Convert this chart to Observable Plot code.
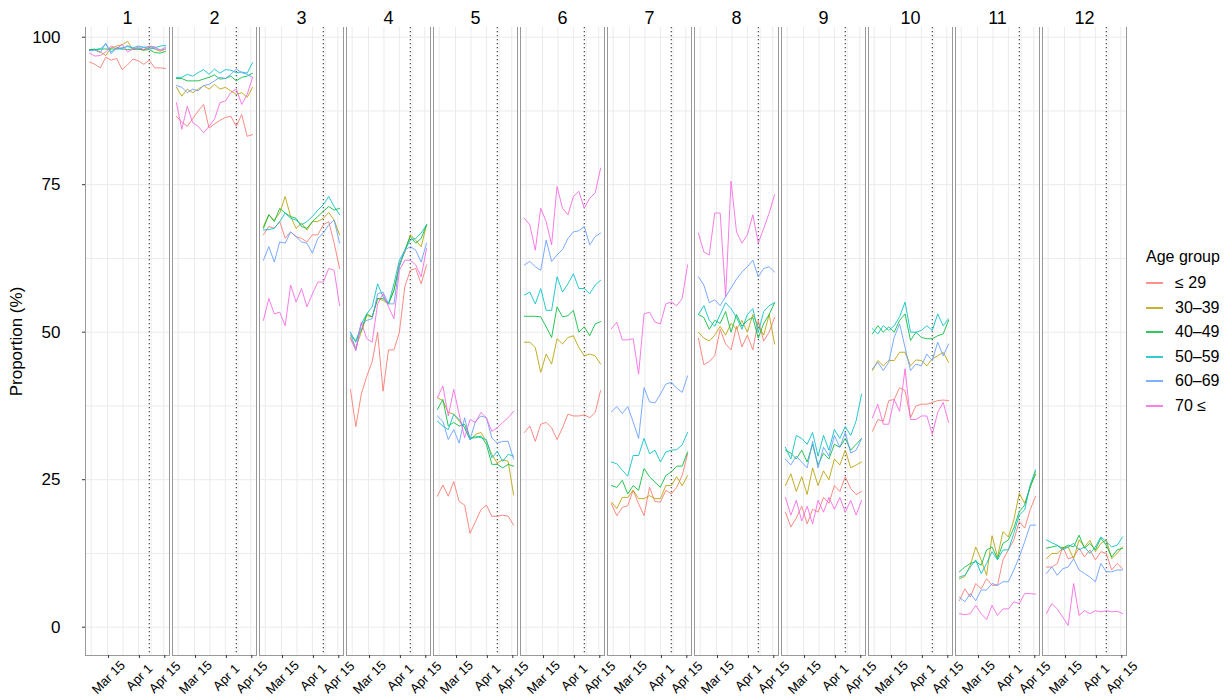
<!DOCTYPE html>
<html><head><meta charset="utf-8">
<script src="https://cdn.jsdelivr.net/npm/d3@7"></script>
<script src="https://cdn.jsdelivr.net/npm/@observablehq/plot@0.6"></script>
<style>
body{margin:0;background:#fff;font-family:"Liberation Sans",Arial,sans-serif;}
#wrap{position:relative;width:1231px;height:697px;overflow:hidden;}
#chart{position:absolute;left:0;top:0;}
#legend{position:absolute;left:1146px;top:248px;font-size:16px;color:#000;}
#legend .title{margin-bottom:5px;}
#legend .item{display:flex;align-items:center;height:24.5px;}
#legend svg{margin-right:12px;}
</style></head><body>
<div id="wrap"><div id="chart"></div><div id="legend"></div></div>
<script>
const dates = ["2020-03-05","2020-03-08","2020-03-11","2020-03-14","2020-03-17","2020-03-20","2020-03-23","2020-03-26","2020-03-29","2020-04-01","2020-04-04","2020-04-07","2020-04-10","2020-04-13","2020-04-16"];
const ageGroups = ["≤ 29","30–39","40–49","50–59","60–69","70 ≤"];
const colors = ["#F8766D","#B79F00","#00BA38","#00BFC4","#619CFF","#F564E3"];
const panelLabels = ["1","2","3","4","5","6","7","8","9","10","11","12"];
const xTickDates = ["2020-03-15","2020-04-01","2020-04-15"];
const xGridDates = ["2020-03-06","2020-03-15","2020-03-23T12:00","2020-04-01","2020-04-08","2020-04-15"];
const emergencyDate = "2020-04-07";
const yTicks = [0,25,50,75,100];
const yGrid = [0,12.5,25,37.5,50,62.5,75,87.5,100];

// each panel: rows in ageGroups order, values in dates order
const panel1 = [
 [95.8,95.4,94.8,96.6,96.1,96.4,94.5,95.3,96.3,96.0,95.4,96.1,94.8,94.8,94.7],
 [97.9,98.0,97.5,96.9,98.2,98.5,98.7,99.3,97.9,98.0,97.8,98.2,98.0,97.6,98.0],
 [97.9,97.9,98.0,98.0,98.0,98.0,98.0,97.9,98.0,98.0,97.8,97.9,97.4,97.3,97.6],
 [97.7,97.9,98.0,98.8,97.5,98.1,98.2,98.4,98.2,98.5,98.3,98.4,98.2,98.5,98.6],
 [97.8,97.8,97.4,99.0,97.2,98.3,98.0,98.6,98.1,98.0,98.3,98.0,98.1,97.8,98.3],
 [97.3,96.8,96.9,97.5,98.5,98.0,98.8,97.5,98.0,98.3,97.9,98.5,98.4,97.8,98.0]];
const panel2 = [
 [86.6,85.6,84.9,86.2,87.5,88.6,84.6,85.3,85.9,86.4,86.6,84.9,86.9,83.2,83.5],
 [91.5,90.0,91.2,90.6,91.2,91.8,91.2,92.0,91.2,91.5,90.9,90.3,90.6,89.8,91.5],
 [93.0,93.0,92.6,92.6,92.6,92.9,93.2,93.6,92.9,93.0,93.4,92.6,93.2,93.4,93.9],
 [93.2,93.2,93.7,93.4,94.0,94.5,93.7,94.6,93.9,94.5,94.4,94.0,94.1,93.9,95.7],
 [91.8,91.5,90.6,91.2,90.9,91.8,92.0,92.6,93.2,93.0,93.7,94.6,94.0,93.7,93.2],
 [88.9,84.4,88.3,85.5,84.9,83.8,84.9,86.1,88.9,89.2,90.6,91.2,88.6,90.3,93.2]];
const panel3 = [
 [66.5,67.9,67.6,68.75,65.9,67.0,66.2,65.9,65.3,66.5,66.5,68.2,68.75,65.1,60.8],
 [67.9,69.9,69.0,70.2,73.0,69.6,67.6,68.5,67.3,68.75,68.75,69.3,70.3,69.0,66.5],
 [67.6,69.9,68.75,71.0,70.2,69.6,69.3,67.9,67.6,68.75,69.6,70.5,71.3,70.7,71.0],
 [67.3,67.4,67.6,68.75,70.2,69.3,69.0,68.2,68.75,69.6,70.7,71.6,73.0,71.3,69.9],
 [62.2,64.5,61.9,65.3,65.1,67.0,66.2,65.3,65.1,63.4,65.9,66.8,68.2,69.0,65.1],
 [52.0,55.7,53.1,53.4,51.1,58.0,55.1,57.4,54.3,56.5,58.5,58.5,60.8,60.5,54.5]];
const panel4 = [
 [40.3,34.0,39.5,42.5,45.0,50.0,40.0,47.0,47.0,50.0,57.7,60.5,60.8,58.2,61.4],
 [49.1,47.4,50.0,52.8,52.6,55.7,55.4,54.8,57.1,61.6,63.6,66.5,65.6,64.5,68.2],
 [49.4,48.6,50.3,53.1,52.6,55.7,55.7,54.8,57.1,61.1,63.9,66.2,65.1,65.9,68.2],
 [50.0,48.3,51.4,53.1,54.3,58.2,56.0,54.8,58.2,62.2,63.9,65.6,65.9,66.8,68.2],
 [50.0,46.9,51.4,52.0,52.3,56.5,56.8,54.8,54.8,61.4,63.9,64.5,63.9,61.9,65.1],
 [48.9,46.9,51.7,48.9,48.3,54.8,56.5,54.3,52.3,60.5,62.2,62.2,61.4,59.4,64.2]];
const panel5 = [
 [22.2,24.1,22.2,24.7,21.3,20.7,15.9,17.9,19.9,20.7,18.8,18.8,19.0,18.8,17.3],
 [38.9,38.4,36.4,36.1,34.9,33.8,31.8,32.7,33.0,31.5,29.3,27.8,28.4,28.1,22.4],
 [36.9,38.6,34.1,34.7,34.1,34.4,32.1,32.1,32.4,31.0,27.6,27.6,27.0,27.6,27.3],
 [34.9,34.1,33.5,36.1,35.2,33.8,31.8,32.4,32.1,31.8,28.7,29.8,28.1,29.3,29.0],
 [35.8,34.9,31.8,33.5,31.2,35.5,31.8,34.9,35.8,35.5,32.1,31.2,31.5,31.5,28.5],
 [38.9,40.9,35.8,40.3,36.1,32.1,35.2,34.7,36.4,35.5,33.2,33.8,34.7,35.5,36.6]];
const panel6 = [
 [33.0,34.1,31.5,34.4,34.7,33.8,31.8,33.8,36.1,35.8,35.8,36.0,35.5,36.4,40.1],
 [48.3,48.3,47.4,43.2,46.3,44.6,48.9,48.0,49.1,49.4,47.4,46.0,46.3,46.0,44.6],
 [52.7,52.7,52.7,52.6,50.9,49.1,54.3,52.6,52.8,53.7,50.0,50.9,49.4,51.4,51.8],
 [56.3,56.8,54.8,57.4,53.7,53.7,59.4,56.8,58.2,59.9,57.4,57.4,56.5,58.0,58.8],
 [61.4,62.0,61.1,60.5,65.6,62.0,63.1,64.0,65.9,67.0,67.2,67.9,64.8,66.2,66.8],
 [69.3,68.2,63.9,71.0,68.75,64.8,74.7,71.0,69.9,73.0,73.9,71.0,72.7,73.6,77.8]];
const panel7 = [
 [20.9,18.9,20.3,20.6,23.2,20.9,18.9,23.7,21.3,21.2,23.2,22.6,23.7,25.7,29.4],
 [21.2,20.1,22.0,22.0,23.2,21.8,21.8,22.3,21.8,21.8,24.0,24.0,25.5,24.0,25.7],
 [24.0,23.7,24.9,22.6,24.0,23.2,26.9,25.5,24.6,23.7,25.7,26.3,27.3,27.3,29.7],
 [28.0,27.7,26.6,25.6,29.1,29.1,32.0,29.4,30.0,28.0,29.7,30.0,30.1,30.9,33.0],
 [36.5,37.4,36.2,37.4,34.8,32.0,40.6,38.2,38.0,39.5,41.2,41.5,40.5,39.8,42.6],
 [50.6,51.7,48.7,48.7,48.9,42.9,53.1,53.4,51.7,51.4,54.8,55.1,54.5,55.7,61.4]];
const panel8 = [
 [49.0,44.5,45.0,46.0,50.5,48.0,47.0,51.0,47.5,49.5,47.0,52.0,48.5,50.0,52.5],
 [50.0,49.0,48.5,49.5,51.0,49.5,51.5,50.5,52.0,50.0,53.0,51.0,49.5,53.0,48.0],
 [53.0,52.5,50.5,52.0,51.5,53.5,50.0,53.0,51.0,52.0,52.5,49.0,51.5,53.0,55.0],
 [53.0,54.5,52.0,51.0,53.0,55.0,54.0,52.5,50.5,53.0,54.0,50.0,53.5,54.5,55.0],
 [59.4,58.0,55.0,55.5,54.5,56.0,57.5,59.0,60.2,61.1,62.2,59.4,60.8,61.1,60.2],
 [66.8,63.6,63.1,70.2,70.2,56.0,75.6,67.0,65.1,66.5,69.9,65.1,67.6,70.2,73.3]];
const panel9 = [
 [19.5,17.0,18.5,20.5,17.5,20.0,19.5,22.0,21.0,24.0,23.0,25.5,23.5,22.5,23.0],
 [24.0,26.0,23.0,25.5,22.5,27.0,24.0,26.5,25.0,28.5,27.5,30.0,27.0,27.5,28.0],
 [30.0,29.5,28.5,30.0,28.0,31.0,27.5,29.5,28.5,31.0,30.5,32.0,30.0,31.0,32.0],
 [30.5,28.5,32.5,32.0,31.0,33.0,29.0,32.5,30.0,33.5,32.0,34.0,32.5,35.0,39.5],
 [28.5,27.5,29.0,28.0,27.0,31.5,27.0,30.5,29.0,32.5,30.5,33.0,29.5,30.0,32.0],
 [22.0,19.0,21.5,18.0,20.5,17.5,21.5,19.5,22.0,20.0,22.0,19.5,21.5,19.0,21.5]];
const panel10 = [
 [33.2,35.2,34.9,38.4,38.6,40.6,40.1,35.5,37.5,37.8,37.8,38.1,38.4,38.5,38.4],
 [43.5,45.2,44.3,45.2,45.2,46.6,46.6,44.3,45.3,45.2,44.3,45.5,46.0,46.6,44.9],
 [49.7,51.1,50.0,50.9,50.0,52.0,53.1,48.6,50.0,49.1,48.9,48.9,49.4,49.7,52.0],
 [50.6,49.7,51.1,50.3,51.1,52.6,55.1,50.0,50.0,50.3,51.1,50.3,53.1,51.1,52.3],
 [43.8,44.9,43.5,44.9,49.1,51.4,47.4,43.5,44.6,44.3,46.3,45.2,48.3,46.0,48.0],
 [35.5,37.8,34.4,34.4,38.6,36.6,43.8,35.2,35.2,35.8,35.8,32.7,36.4,38.1,34.7]];
const panel11 = [
 [4.5,6.5,5.1,7.4,6.5,8.2,7.1,7.1,11.4,13.1,14.8,17.9,16.8,19.9,22.2],
 [8.2,8.6,10.5,13.6,11.4,8.8,15.5,11.9,16.2,15.3,18.2,22.7,21.0,23.6,26.4],
 [9.4,10.2,10.8,11.1,10.5,13.1,13.6,11.6,14.2,14.8,16.8,19.6,20.7,23.9,25.9],
 [8.5,8.8,10.2,11.4,9.1,10.8,12.8,11.4,13.1,13.1,15.9,19.0,19.9,24.1,26.7],
 [5.1,4.3,5.7,4.5,6.3,6.3,7.4,7.1,7.7,7.7,9.7,11.9,14.5,17.3,17.3],
 [2.3,2.1,2.3,3.7,2.3,1.3,3.7,2.0,3.1,3.1,4.3,4.0,5.7,5.7,5.6]];
const panel12 = [
 [10.2,10.2,10.8,13.6,11.6,11.9,13.4,11.9,13.1,11.4,12.8,12.5,9.7,10.8,9.9],
 [11.6,12.5,12.5,13.4,13.6,11.6,14.8,13.6,14.7,12.8,14.2,14.8,11.6,12.5,13.6],
 [13.4,13.6,13.8,13.4,13.9,13.6,15.6,13.4,14.2,13.1,15.1,13.9,11.9,13.1,13.4],
 [14.8,14.3,13.9,13.1,13.6,14.2,13.1,13.6,12.5,13.6,15.3,14.5,13.6,13.9,15.3],
 [9.1,10.2,8.8,9.9,10.2,11.6,9.7,9.1,8.5,7.7,10.8,9.4,9.4,9.7,9.7],
 [2.3,4.0,3.1,1.7,0.3,7.4,2.0,2.8,2.3,2.8,2.6,2.8,2.6,2.7,2.3]];
const panels = [panel1,panel2,panel3,panel4,panel5,panel6,panel7,panel8,panel9,panel10,panel11,panel12];

const rows = [];
panels.forEach((p, pi) => p.forEach((vals, gi) => vals.forEach((v, di) => {
  rows.push({panel: panelLabels[pi], group: ageGroups[gi], date: new Date(dates[di]), value: v});
})));

const fmt = d3.utcFormat("%b %-d");
const chart = Plot.plot({
  width: 1145, height: 697,
  marginLeft: 79, marginRight: 14, marginTop: 27, marginBottom: 42,
  style: {fontFamily: '"Liberation Sans", Arial, sans-serif', fontSize: "12px", color: "#000", background: "#fff", overflow: "visible"},
  fx: {domain: panelLabels, paddingInner: 0.035, paddingOuter: 0, label: null},
  x: {type: "utc", insetLeft: 3.9, insetRight: 3.9},
  y: {domain: [yTicks[0], yTicks[yTicks.length - 1]], insetTop: 9.7, insetBottom: 28.3},
  color: {domain: ageGroups, range: colors},
  marks: [
    Plot.gridY({ticks: yGrid, stroke: "#ebebeb", strokeOpacity: 1, strokeWidth: 1}),
    Plot.gridX({ticks: xGridDates.map(d => new Date(d)), stroke: "#ebebeb", strokeOpacity: 1, strokeWidth: 1}),
    Plot.frame({anchor: "left", stroke: "#999"}),
    Plot.frame({anchor: "right", stroke: "#999"}),
    Plot.frame({anchor: "bottom", stroke: "#999"}),
    Plot.ruleX([new Date(emergencyDate)], {stroke: "#222", strokeWidth: 1, strokeDasharray: "1.3,2.7"}),
    Plot.line(rows, {fx: "panel", x: "date", y: "value", z: "group", stroke: "group", strokeWidth: 0.85}),
    Plot.axisY({ticks: yTicks, tickSize: 3, tickPadding: 22, fontSize: 17, stroke: "#333",
      label: "Proportion (%)", labelAnchor: "center", labelArrow: "none", labelOffset: 76}),
    Plot.axisX({ticks: xTickDates.map(d => new Date(d)), tickFormat: fmt, tickSize: 3, tickPadding: 19,
      tickRotate: -45, textAnchor: "middle", lineAnchor: "middle", dx: 1, fontSize: 13, stroke: "#333", label: null}),
    Plot.axisFx({anchor: "top", tickSize: 0, tickPadding: 4, fontSize: 18, label: null})
  ]
});
document.getElementById("chart").appendChild(chart);

// legend
const lg = document.getElementById("legend");
const t = document.createElement("div"); t.className = "title"; t.textContent = "Age group"; lg.appendChild(t);
ageGroups.forEach((g, i) => {
  const it = document.createElement("div"); it.className = "item";
  it.innerHTML = `<svg width="17" height="6"><line x1="0" x2="17" y1="3" y2="3" stroke="${colors[i]}" stroke-width="1.6"/></svg><span>${g}</span>`;
  lg.appendChild(it);
});
</script>
</body></html>
